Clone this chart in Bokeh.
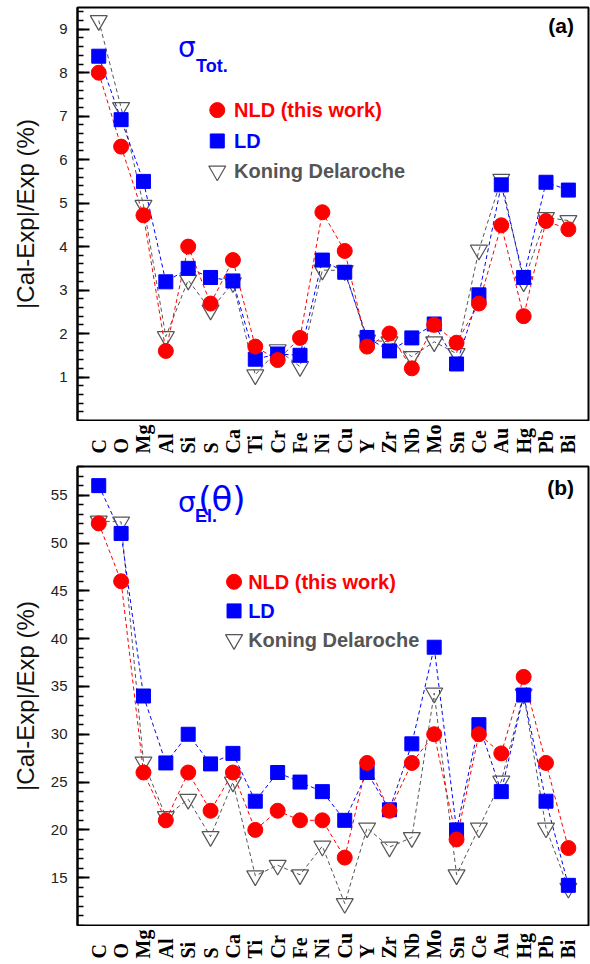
from math import pi

from bokeh.embed import file_html
from bokeh.layouts import column
from bokeh.models import FixedTicker, Label, Range1d
from bokeh.plotting import figure
from bokeh.resources import INLINE

# Target nuclei along the horizontal axis
elements = ["C", "O", "Mg", "Al", "Si", "S", "Ca", "Ti", "Cr", "Fe", "Ni",
            "Cu", "Y", "Zr", "Nb", "Mo", "Sn", "Ce", "Au", "Hg", "Pb", "Bi"]

# (a) total cross section, |Cal-Exp|/Exp in %
tot_nld = [8.0, 6.3, 4.72, 1.6, 4.0, 2.69, 3.69, 1.70, 1.39, 1.9, 4.79,
           3.9, 1.7, 2.0, 1.2, 2.2, 1.79, 2.69, 4.49, 2.4, 4.59, 4.4]
tot_ld = [8.38, 6.92, 5.5, 3.19, 3.5, 3.29, 3.21, 1.41, 1.53, 1.5, 3.69,
          3.41, 1.91, 1.6, 1.9, 2.22, 1.3, 2.89, 5.42, 3.29, 5.48, 5.3]
tot_kd = [9.2, 7.2, 4.95, 1.93, 3.23, 2.54, 3.17, 1.05, 1.63, 1.24, 3.46,
          3.45, 1.85, 1.81, 1.47, 1.81, 1.54, 3.92, 5.55, 3.19, 4.67, 4.6]

# (b) elastic angular distribution, |Cal-Exp|/Exp in %
el_nld = [52.05, 46.0, 26.0, 21.0, 26.0, 22.0, 26.0, 20.0, 22.0, 21.0, 21.0,
          17.1, 27.0, 22.0, 27.0, 30.0, 19.0, 30.0, 28.0, 36.0, 27.0, 18.1]
el_ld = [56.0, 51.0, 34.0, 27.0, 30.0, 26.9, 28.0, 23.0, 26.0, 25.0, 24.0,
         21.0, 26.0, 22.1, 29.0, 39.1, 20.0, 31.0, 24.0, 34.1, 23.0, 14.2]
el_kd = [52.3, 52.2, 27.1, 21.4, 23.2, 19.3, 25.0, 15.2, 16.3, 15.3, 18.3,
         12.3, 20.2, 18.2, 19.2, 34.3, 15.3, 20.2, 25.1, 34.2, 20.2, 13.9]

series_names = ["NLD (this work)", "LD", "Koning Delaroche"]

RED = "#ff0000"
BLUE = "#0000ff"
GREY = "#555555"
SANS = "Liberation Sans"
SERIF = "Liberation Serif"


def make_panel(x_range, nld, ld, kd, y_lo, y_hi, majors, minors, height, top,
               label_standoff, tag, tag_y, key_x, key_ys, key_text_x):
    p = figure(width=590, height=height,
               x_range=x_range, y_range=Range1d(y_lo, y_hi),
               output_backend="svg", toolbar_location=None,
               min_border_left=77, min_border_right=2,
               min_border_top=top, min_border_bottom=1)
    p.xaxis.visible = False
    p.xgrid.visible = False
    p.ygrid.visible = False
    p.outline_line_color = "black"
    p.outline_line_width = 2
    p.outline_line_alpha = 1.0
    p.background_fill_color = "white"
    p.border_fill_color = "white"

    ax = p.yaxis[0]
    ax.ticker = FixedTicker(ticks=majors, minor_ticks=minors)
    ax.axis_line_width = 2
    ax.major_tick_in = 12
    ax.major_tick_out = 0
    ax.major_tick_line_width = 2
    ax.minor_tick_in = 6
    ax.minor_tick_out = 0
    ax.minor_tick_line_width = 1.5
    ax.major_label_text_font = SANS
    ax.major_label_text_font_size = "15px"
    ax.major_label_text_color = "#222222"
    ax.major_label_standoff = 10
    ax.axis_label = "|Cal-Exp|/Exp (%)"
    ax.axis_label_text_font = SANS
    ax.axis_label_text_font_style = "normal"
    ax.axis_label_text_font_size = "24px"
    ax.axis_label_text_color = "#111111"
    ax.axis_label_standoff = label_standoff

    xs = list(range(len(elements)))
    dash = "4 3"
    p.line(xs, kd, line_color=GREY, line_width=1, line_dash=dash)
    p.line(xs, ld, line_color=BLUE, line_width=1, line_dash=dash)
    p.line(xs, nld, line_color=RED, line_width=1, line_dash=dash)
    p.scatter(xs, kd, marker="inverted_triangle", size=17, fill_alpha=0,
              line_color=GREY, line_width=1.2)
    p.scatter(xs, ld, marker="square", size=14, fill_color=BLUE,
              line_color=BLUE)
    p.scatter(xs, nld, marker="circle", size=15, fill_color=RED,
              line_color=RED)

    # legend keys and entries
    p.scatter([key_x], [key_ys[0]], marker="circle", size=15,
              fill_color=RED, line_color=RED)
    p.scatter([key_x], [key_ys[1]], marker="square", size=14,
              fill_color=BLUE, line_color=BLUE)
    p.scatter([key_x], [key_ys[2]], marker="inverted_triangle", size=17,
              fill_alpha=0, line_color=GREY, line_width=1.2)
    for name, ky, col in zip(series_names, key_ys, [RED, BLUE, GREY]):
        p.add_layout(Label(x=key_text_x, y=ky, text=name, text_color=col,
                           text_font=SANS, text_font_style="bold",
                           text_font_size="20px", text_baseline="middle"))

    p.add_layout(Label(x=21.25, y=tag_y, text=tag, text_align="right",
                       text_font=SANS, text_font_style="bold",
                       text_font_size="21px", text_color="black"))
    return p


def make_name_strip(x_range, height, start_y):
    # element names under a panel, reading upwards from a common baseline
    s = figure(width=590, height=height, x_range=x_range,
               y_range=Range1d(0, height), output_backend="svg",
               toolbar_location=None, min_border_left=77, min_border_right=2,
               min_border_top=0, min_border_bottom=0)
    s.xaxis.visible = False
    s.yaxis.visible = False
    s.xgrid.visible = False
    s.ygrid.visible = False
    s.outline_line_color = None
    s.background_fill_color = "white"
    s.border_fill_color = "white"
    s.text(x=list(range(len(elements))), y=[start_y] * len(elements),
           text=elements, angle=pi / 2, text_align="left",
           text_baseline="middle", text_font=SERIF,
           text_font_style="bold", text_font_size="20px", text_color="black")
    return s


xr_a = Range1d(-0.95, 21.9)
xr_b = Range1d(-0.95, 21.9)

# panel (a)
pa = make_panel(xr_a, tot_nld, tot_ld, tot_kd, 0, 9.5,
                list(range(1, 10)), [round(0.2 * k, 1) for k in range(0, 48)],
                421, 7, 17, "(a)", 8.82,
                5.3, [7.14, 6.43, 5.74], 6.05)
pa.add_layout(Label(x=3.54, y=8.19, text="σ", text_color=BLUE,
                    text_font="DejaVu Sans", text_font_size="28px"))
pa.add_layout(Label(x=4.35, y=7.93, text="Tot.", text_color=BLUE,
                    text_font=SANS, text_font_style="bold",
                    text_font_size="18px"))
sa = make_name_strip(xr_a, 41, 9)

# panel (b)
pb = make_panel(xr_b, el_nld, el_ld, el_kd, 10, 58,
                list(range(15, 60, 5)), list(range(10, 59)),
                464, 4, 9, "(b)", 54.6,
                6.05, [45.94, 42.9, 39.9], 6.68)
pb.add_layout(Label(x=3.54, y=52.55, text="σ", text_color=BLUE,
                    text_font="DejaVu Sans", text_font_size="28px"))
pb.add_layout(Label(x=4.3, y=51.8, text="El.", text_color=BLUE,
                    text_font=SANS, text_font_style="bold",
                    text_font_size="18px"))
pb.add_layout(Label(x=4.45, y=52.5, text="(θ)", text_color=BLUE,
                    text_font="DejaVu Sans", text_font_style="normal",
                    text_font_size="34px"))
sb = make_name_strip(xr_b, 38, 6)

layout = column(pa, sa, pb, sb, spacing=0)
open("out.html", "w").write(file_html(layout, INLINE))
